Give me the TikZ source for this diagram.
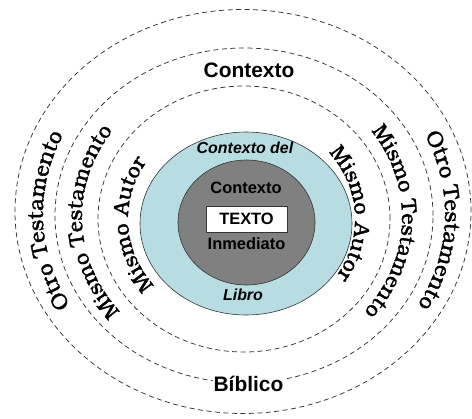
\documentclass[tikz,border=0pt]{standalone}
\usepackage{fontspec}
\setmainfont{Liberation Sans}
\newfontfamily\bookfont[FakeBold=1.6]{TeX Gyre Bonum}
\usetikzlibrary{decorations.text}
\definecolor{ringblue}{RGB}{183,221,227}
\definecolor{ringgray}{RGB}{128,128,128}
\tikzset{
  ring/.style={draw=black!80, line width=0.75bp, dash pattern=on 5bp off 3.5bp},
  solidring/.style={draw=black!80, line width=0.6bp},
  lbl/.style={font=\fontsize{21}{21}\selectfont\bfseries, inner sep=1bp},
  inlbl/.style={font=\fontsize{16}{16}\selectfont\bfseries, inner sep=0bp},
}
\newcommand{\curvetext}[7]{% center, rx, ry, start, end, size, text
  \path[decorate, decoration={text along path, text align=center,
    text={|\bookfont\fontsize{#6}{#6}\selectfont|#7}}]
    (#1) ++(#4:#2 and #3) arc[start angle=#4, end angle=#5, x radius=#2, y radius=#3];
}
\begin{document}
\begin{tikzpicture}[x=1bp,y=1bp]
\useasboundingbox (0,0) rectangle (472,418);
% dashed rings
\coordinate (c1) at (243,206.5);
\coordinate (c2) at (244,202.5);
\coordinate (c3) at (244,199);
\draw[ring] (c1) ellipse[x radius=228, y radius=202];
\draw[ring] (c2) ellipse[x radius=189, y radius=167.5];
\draw[ring] (c3) ellipse[x radius=146, y radius=133];
% filled core
\filldraw[solidring, fill=ringblue] (246,194.5) ellipse[x radius=106, y radius=91.5];
\filldraw[solidring, fill=ringgray] (246.5,195.5) ellipse[x radius=68.5, y radius=62.5];
\node[draw=black!80, line width=0.6bp, fill=white, minimum width=81bp, minimum height=26bp, inner sep=0bp, font=\fontsize{16.5}{16.5}\selectfont\bfseries] (texto) at (246.5,199) {TEXTO};
% inner labels
\node[inlbl, font=\fontsize{16}{16}\selectfont\bfseries\itshape] (cdel) at (245,270) {Contexto del};
\node[inlbl, font=\fontsize{16.5}{16.5}\selectfont\bfseries] (cinm) at (246,230.5) {Contexto};
\node[inlbl, font=\fontsize{16.5}{16.5}\selectfont\bfseries] (inm) at (246.5,174) {Inmediato};
\node[inlbl, font=\fontsize{16}{16}\selectfont\bfseries\itshape] (libro) at (243,123) {Libro};
% outer labels
\node[lbl] (ctx) at (249,348) {Contexto};
\node[lbl, fill=white] (bib) at (248.5,34.5) {Bíblico};
% curved labels
\coordinate (t1) at (244,204);
\coordinate (t2) at (242,201);
\coordinate (t3) at (241.5,199);
\curvetext{t1}{201}{181}{252}{112}{22}{Otro Testamento}
\curvetext{t1}{201}{181}{68}{-72}{22}{Otro Testamento}
\curvetext{t2}{160}{146}{257}{107}{21.5}{Mismo Testamento}
\curvetext{t2}{160}{146}{73}{-77}{21.5}{Mismo Testamento}
\curvetext{t3}{113.5}{104}{263}{103}{21.5}{Mismo Autor}
\curvetext{t3}{113.5}{104}{83}{-77}{21.5}{Mismo Autor}
\end{tikzpicture}
\end{document}
